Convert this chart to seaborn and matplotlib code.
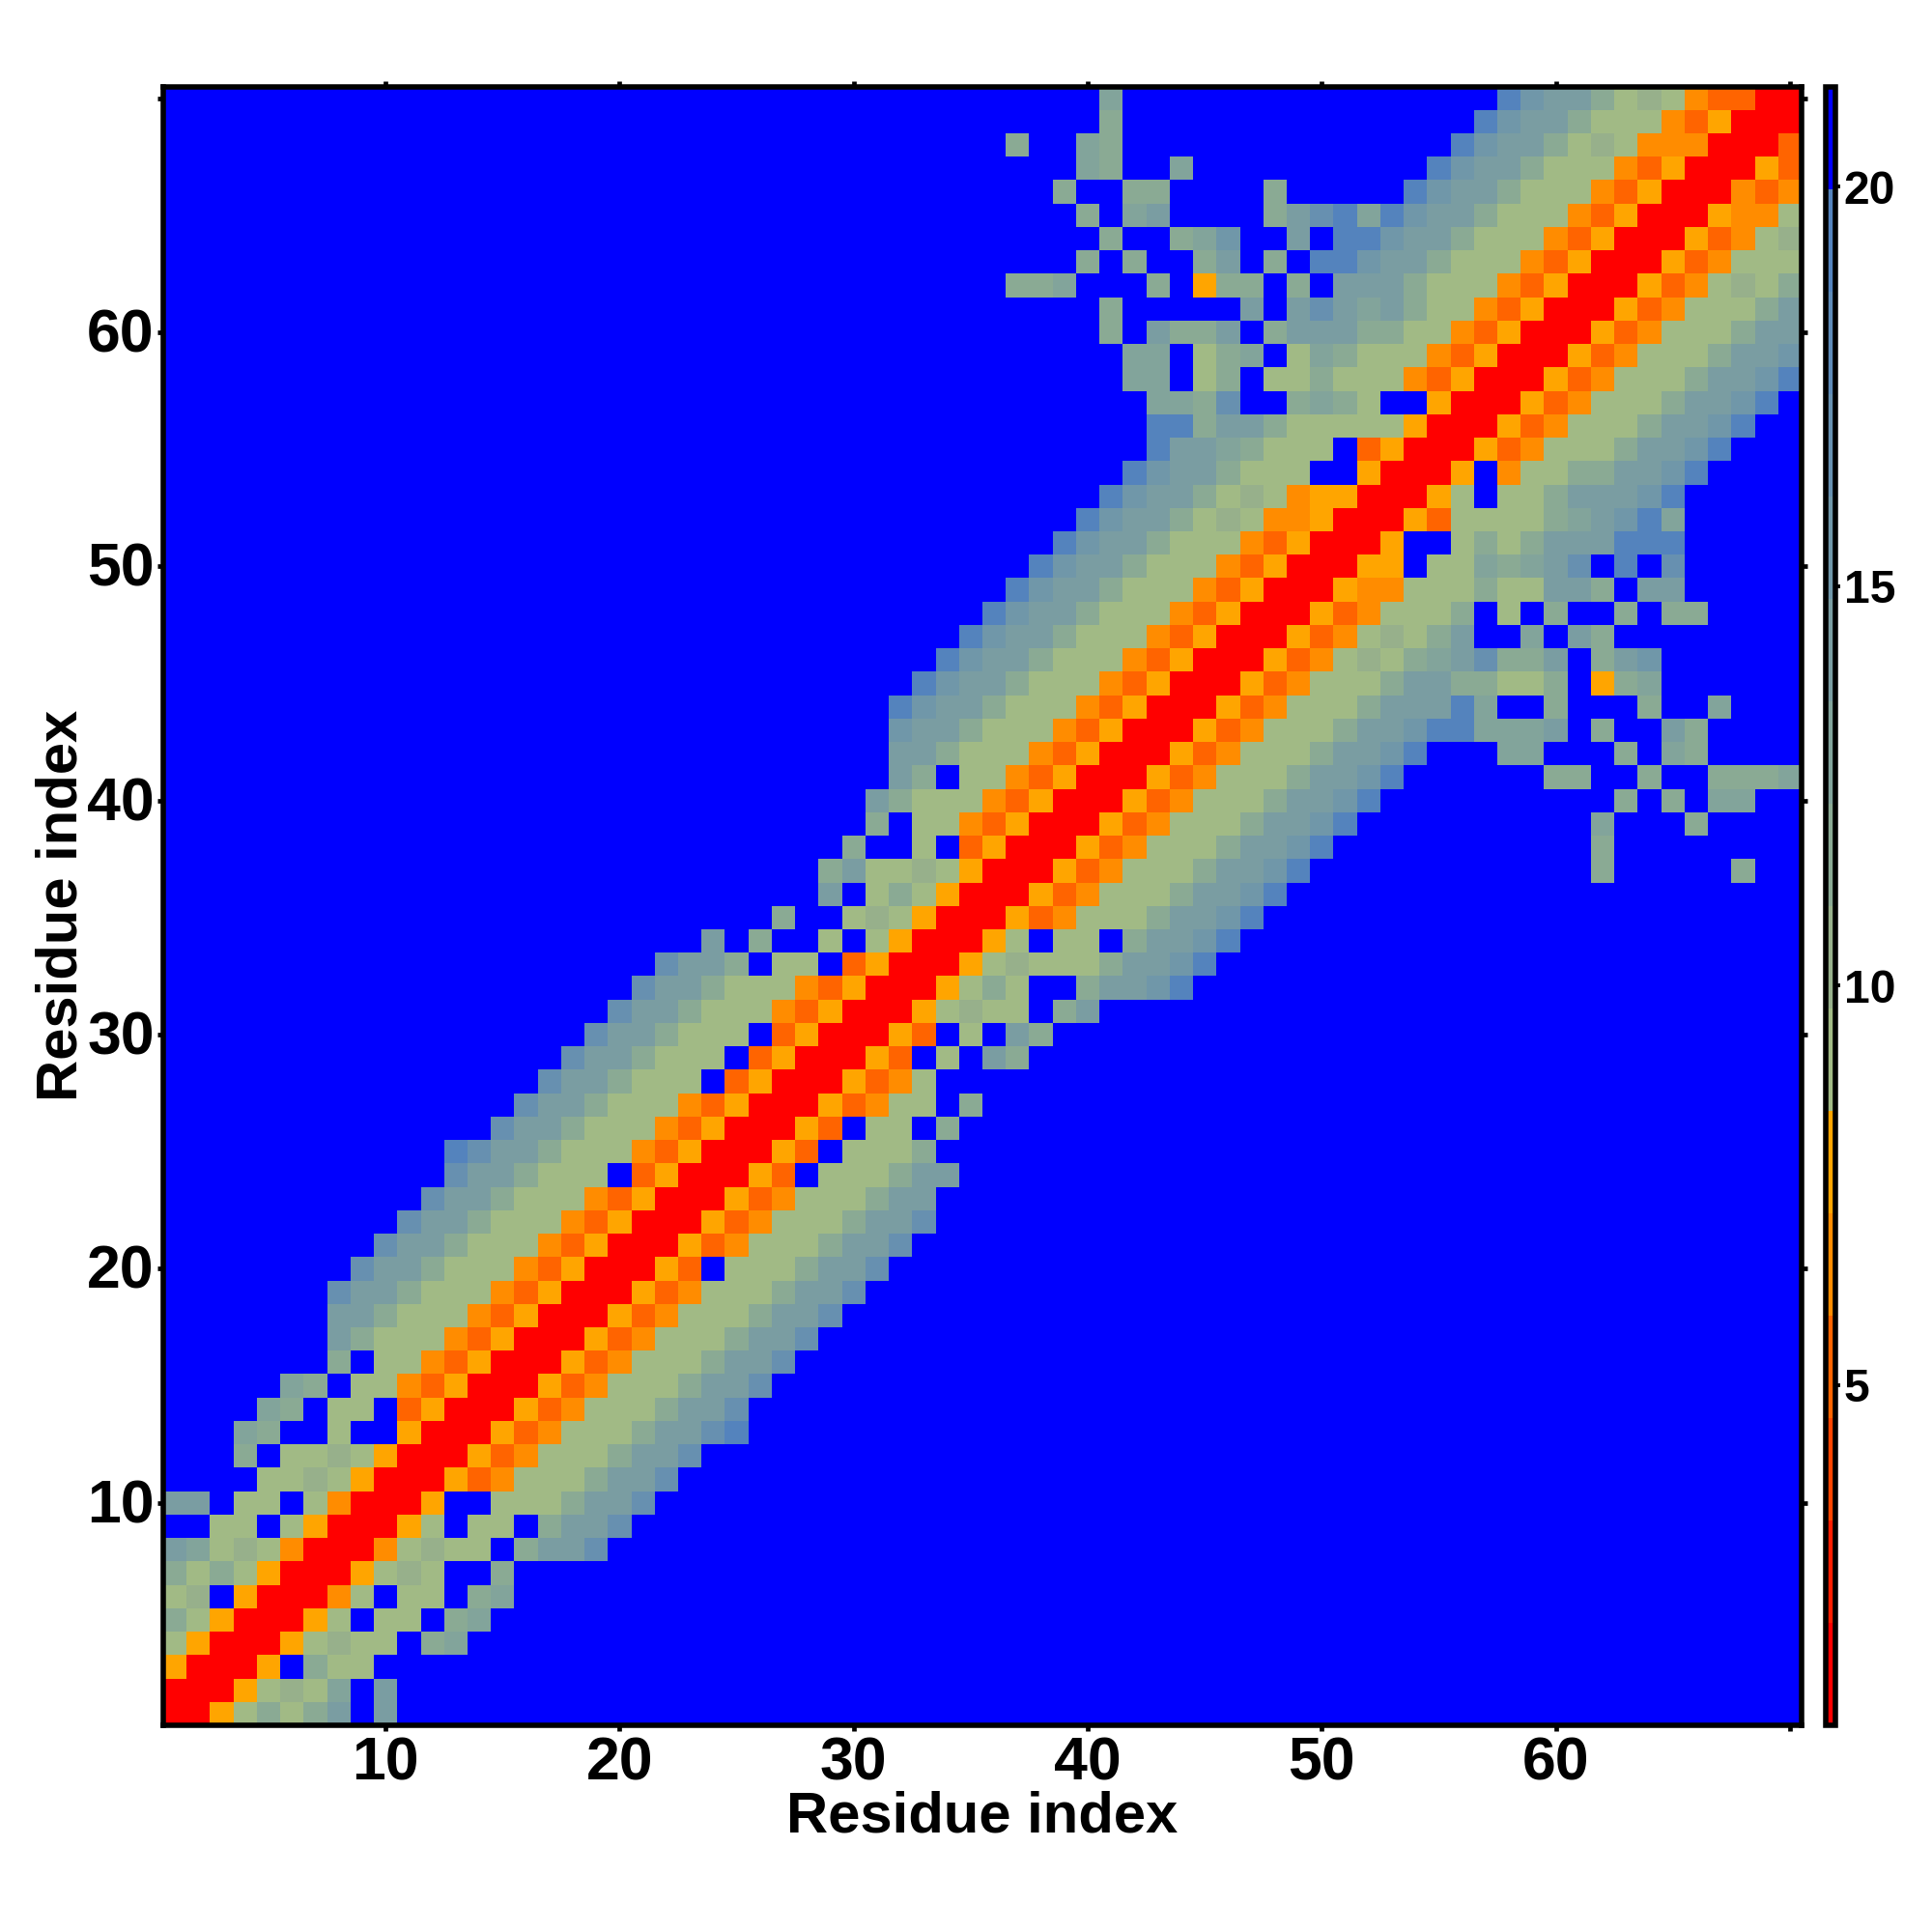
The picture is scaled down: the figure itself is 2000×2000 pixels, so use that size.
import numpy as np
import matplotlib
matplotlib.use('Agg')
import matplotlib.pyplot as plt
from matplotlib.colors import ListedColormap
from matplotlib.transforms import ScaledTranslation
import seaborn as sns

sns.set_style('white')
plt.rcParams['font.family'] = ['Liberation Sans', 'DejaVu Sans']
plt.rcParams['font.weight'] = 'bold'
plt.rcParams['text.color'] = 'black'
plt.rcParams['axes.labelcolor'] = 'black'
plt.rcParams['xtick.labelcolor'] = 'black'
plt.rcParams['ytick.labelcolor'] = 'black'

# Upper triangle of the map, one string per residue, starting on the diagonal.
# Missing cells at the end of a string are beyond the cutoff (blue).
upper_rows = [
    'RRAacaceBe', 'RRAabadBe', 'RRABcaa', 'RRAabaaBcd', 'RRAaBaaBcd',
    'RROaBaaBcd', 'RRAabaBBc', 'RROabaaBceeg', 'RRAaBaaBceeg', 'RRABBaaaceeg',
    'RRADOaaaceeg', 'RRADOaaaceeg', 'RRADOaaaceegh', 'RRADOaaaceeg', 'RRADOaaaceeg',
    'RRADOaaaceeg', 'RRADOaaaceeg', 'RRADOaaaceeg', 'RRADOaaaceeg', 'RRADBaaaceeg',
    'RRADOaaaceeg', 'RRADOaaaceeg', 'RRADOaaacee', 'RRADBaaacee', 'RRADBaaac',
    'RRADBaaBc', 'RRADOaaBc', 'RRADOa', 'RRADBaBec', 'RRADBaBec',
    'RRAabaaBce', 'RRAacaBBceefh', 'RRAabaaaceefh', 'RRAaBaaBceefh', 'RRADOaaaceefh',
    'RRADOaaaceefh',
    'RRADOaaaceefhBBBBBBBBBBBBcBBBBBc',
    'RRADOaaaceefhBBBBBBBBBBBc',
    'RRADOaaaceefhBBBBBBBBBBdBBBc',
    'RRADOaaaceefhBBBBBBBBBBcBcBdd',
    'RRADOaaaceefhBBBBBBccBBcBBcccd',
    'RRADOaaaceefhBBBddBBBcBdc',
    'RRADOaaaceefhhdddeBcBBec',
    'RRADOaaaceeehdBBcBBBcBBd',
    'RRADOaaaceeccaacBAcd',
    'RRADOabacdegcceBcef',
    'RRADOabaceBBdBec',
    'RRADOaaacBaBcBBcBcc',
    'RRAOOaaacaaeecBee',
    'RRAABaadcdegBhBg',
    'RRABBacaceeehhh',
    'RRADaaaacdefhd',
    'RRAaBaaceeefh',
    'RRABOaacceefh',
    'RRADOaaaceefh', 'RRADOaaaceefh', 'RRADOaaaceefh', 'RRADOaaaceefh',
    'RRADOaaaceef', 'RRADOaaacee', 'RRADOaaace', 'RRADOabac', 'RRADOaaa',
    'RRADOab', 'RRAOOa', 'RRODO', 'RRAD', 'RRD', 'RR', 'R',
]

# Distance for each letter in upper_rows
level_values = {'R': 1.3, 'D': 5.2, 'O': 6.5, 'A': 7.8, 'a': 9.1, 'b': 10.4, 'c': 11.7,
                'd': 13.0, 'e': 14.2, 'f': 15.5, 'g': 16.8, 'h': 19.4, 'B': 20.7}
far_value = 20.7

level_colors = ['#ff0000', '#ff1e00', '#ff4500', '#ff6400', '#ff8c00', '#ffa500',
                '#a1ba85', '#97b08b', '#8aaa94', '#82a49b', '#7a9da2', '#7097a9',
                '#6790b0', '#5e8ab7', '#5483bd', '#0000ff']
cbar_min = 0.744
cbar_max = 21.256
cbar_ticks = [5, 10, 15, 20]

residue_ticks = [10, 20, 30, 40, 50, 60, 70]
residue_labels = ['10', '20', '30', '40', '50', '60', '']
axis_label = 'Residue index'

n = len(upper_rows)
dist = np.full((n, n), far_value)
for i, row in enumerate(upper_rows):
    for k, ch in enumerate(row):
        dist[i, i + k] = level_values[ch]
        dist[i + k, i] = level_values[ch]

fig = plt.figure(figsize=(10, 10), dpi=200)
ax = fig.add_axes([169 / 2000, 214 / 2000, 1696 / 2000, 1696.5 / 2000])
cax = fig.add_axes([1889.5 / 2000, 214 / 2000, 11 / 2000, 1696.5 / 2000])

sns.heatmap(dist, ax=ax, cbar_ax=cax, cmap=ListedColormap(level_colors),
            vmin=cbar_min, vmax=cbar_max, square=False,
            cbar_kws={'ticks': cbar_ticks}, rasterized=True)
ax.invert_yaxis()

tick_pos = [t - 0.5 for t in residue_ticks]
ax.set_xticks(tick_pos)
ax.set_yticks(tick_pos)
ax.set_xticklabels(residue_labels, rotation=0, fontsize=22.5, fontweight='bold', color='black')
ax.set_yticklabels(residue_labels, rotation=0, fontsize=22.5, fontweight='bold', color='black')
ax.tick_params(axis='both', which='major', length=2.2, width=1.7, color='black', pad=1.5,
               top=True, right=True, bottom=True, left=True)
# y tick labels sit a little lower than their ticks in the original
nudge = ScaledTranslation(1 / 200, -4 / 200, fig.dpi_scale_trans)
for lab in ax.get_yticklabels():
    lab.set_transform(lab.get_transform() + nudge)
ax.set_xlabel(axis_label, fontsize=21.5, fontweight='bold', labelpad=0, color='black')
ax.set_ylabel(axis_label, fontsize=21.5, fontweight='bold', labelpad=0, color='black')
ax.xaxis.set_label_coords(0.5, -0.040)
ax.yaxis.set_label_coords(-0.0455, 0.5)
for spine in ax.spines.values():
    spine.set_visible(True)
    spine.set_color('black')
    spine.set_linewidth(2.0)

cbar = ax.collections[0].colorbar
cbar.outline.set_visible(True)
cbar.outline.set_edgecolor('black')
cbar.outline.set_linewidth(2.0)
cbar.ax.tick_params(length=1.8, width=1.4, color='black', pad=1.2, labelsize=17.3,
                    labelcolor='black')
for lab in cbar.ax.get_yticklabels():
    lab.set_fontweight('bold')

fig.savefig('out.png', dpi=200, facecolor='white')
